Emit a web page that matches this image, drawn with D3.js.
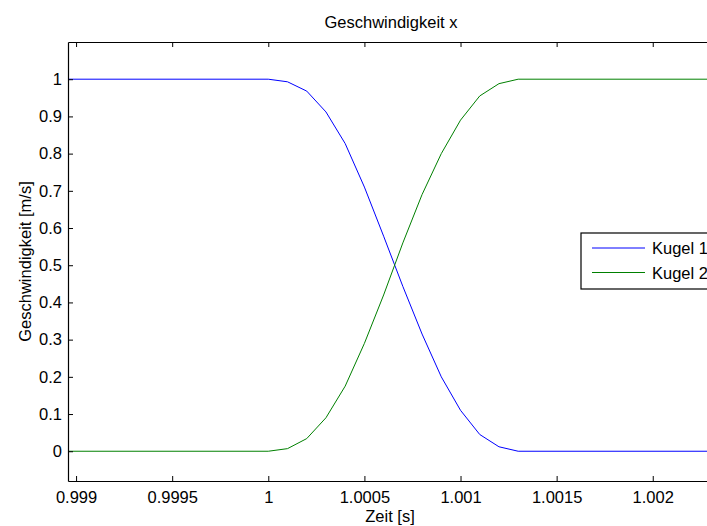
<!DOCTYPE html>
<html>
<head>
<meta charset="utf-8">
<script src="https://cdn.jsdelivr.net/npm/d3@7"></script>
<style>
  body { margin: 0; background: #fff; }
  text { font-family: "Liberation Sans", Arial, sans-serif; fill: #000; }
</style>
</head>
<body>
<div id="chart"></div>
<script>
// data
var times = [0.99896, 1.0000, 1.0001, 1.0002, 1.0003, 1.0004, 1.0005, 1.0006, 1.0007, 1.0008, 1.0009, 1.0010, 1.0011, 1.0012, 1.0013, 1.00256];
var kugel1 = [1, 1, 0.993, 0.968, 0.912, 0.827, 0.71, 0.578, 0.443, 0.315, 0.20, 0.11, 0.045, 0.012, 0, 0];
var kugel2 = [0, 0, 0.007, 0.034, 0.09, 0.175, 0.29, 0.42, 0.56, 0.69, 0.80, 0.89, 0.955, 0.988, 1, 1];
var seriesNames = ["Kugel 1", "Kugel 2"];
var xTicks = [0.999, 0.9995, 1, 1.0005, 1.001, 1.0015, 1.002];
var xTickLabels = ["0.999", "0.9995", "1", "1.0005", "1.001", "1.0015", "1.002"];
var yTicks = [0, 0.1, 0.2, 0.3, 0.4, 0.5, 0.6, 0.7, 0.8, 0.9, 1];
var yTickLabels = ["0", "0.1", "0.2", "0.3", "0.4", "0.5", "0.6", "0.7", "0.8", "0.9", "1"];

(function() {
  var W = 707, H = 526;
  var left = 68, top = 42, right = 760, bottom = 481;
  var fontSize = 16.5;

  var svg = d3.select("#chart")
    .append("svg")
    .attr("width", W)
    .attr("height", H);

  var xScale = d3.scaleLinear().domain([0.998958, 1.002558]).range([left, right]);
  var yScale = d3.scaleLinear().domain([-0.08, 1.1]).range([bottom, top]);
  var colorScale = d3.scaleOrdinal().domain(seriesNames).range(["#0000ff", "#008000"]);

  svg.append("clipPath").attr("id", "clip")
    .append("rect")
    .attr("x", left).attr("y", top)
    .attr("width", right - left).attr("height", bottom - top);

  // lines
  var line = d3.line()
    .x(function(d) { return xScale(d[0]); })
    .y(function(d) { return yScale(d[1]); });

  var series = [kugel1, kugel2];
  svg.append("g").attr("clip-path", "url(#clip)")
    .selectAll("path")
    .data(series)
    .enter().append("path")
    .attr("d", function(vals) { return line(times.map(function(t, i) { return [t, vals[i]]; })); })
    .attr("fill", "none")
    .attr("stroke", function(d, i) { return colorScale(seriesNames[i]); })
    .attr("stroke-width", 1);

  // axes (MATLAB style: ticks inside, box)
  var xAxisBottom = d3.axisBottom(xScale).tickValues(xTicks)
    .tickFormat(function(d, i) { return xTickLabels[i]; })
    .tickSizeInner(-5).tickSizeOuter(0).tickPadding(10);
  var gx = svg.append("g")
    .attr("transform", "translate(0," + bottom + ")")
    .call(xAxisBottom);
  gx.selectAll("text").attr("font-size", fontSize).attr("font-family", "Liberation Sans, Arial, sans-serif");

  var xAxisTop = d3.axisTop(xScale).tickValues(xTicks)
    .tickFormat("").tickSizeInner(-5).tickSizeOuter(0);
  svg.append("g")
    .attr("transform", "translate(0," + top + ")")
    .call(xAxisTop);

  var yAxis = d3.axisLeft(yScale).tickValues(yTicks)
    .tickFormat(function(d, i) { return yTickLabels[i]; })
    .tickSizeInner(-5).tickSizeOuter(0).tickPadding(6);
  var gy = svg.append("g")
    .attr("transform", "translate(" + left + ",0)")
    .call(yAxis);
  gy.selectAll("text").attr("font-size", fontSize).attr("font-family", "Liberation Sans, Arial, sans-serif");

  svg.selectAll(".domain").attr("stroke", "#000").attr("stroke-width", 1.2);
  svg.selectAll(".tick line").attr("stroke", "#000");

  // title and labels
  svg.append("text")
    .attr("x", 391).attr("y", 28)
    .attr("text-anchor", "middle")
    .attr("font-size", fontSize)
    .text("Geschwindigkeit x");

  svg.append("text")
    .attr("x", 390).attr("y", 522)
    .attr("text-anchor", "middle")
    .attr("font-size", fontSize)
    .text("Zeit [s]");

  svg.append("text")
    .attr("transform", "translate(31," + ((top + bottom) / 2) + ") rotate(-90)")
    .attr("text-anchor", "middle")
    .attr("font-size", fontSize)
    .text("Geschwindigkeit [m/s]");

  // legend
  var legend = svg.append("g").attr("transform", "translate(581,233)");
  legend.append("rect")
    .attr("x", 0).attr("y", 0)
    .attr("width", 140).attr("height", 56)
    .attr("fill", "#fff")
    .attr("stroke", "#000")
    .attr("stroke-width", 1.2);

  var items = legend.selectAll(".item")
    .data(seriesNames)
    .enter().append("g")
    .attr("transform", function(d, i) { return "translate(0," + (15 + i * 24.5) + ")"; });
  items.append("line")
    .attr("x1", 11).attr("x2", 64)
    .attr("stroke", function(d) { return colorScale(d); })
    .attr("stroke-width", 1);
  items.append("text")
    .attr("x", 71).attr("y", 6)
    .attr("font-size", fontSize)
    .text(function(d) { return d; });
})();
</script>
</body>
</html>
